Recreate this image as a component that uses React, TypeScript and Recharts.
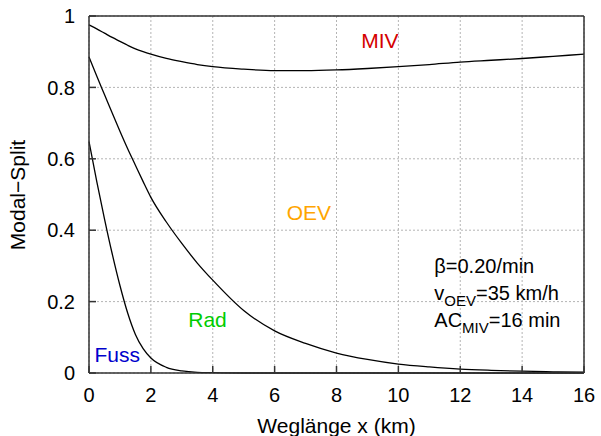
import { LineChart, Line, XAxis, YAxis, CartesianGrid, ReferenceDot } from "recharts"

// Weglänge in km
const distances = [0, 0.25, 0.5, 0.75, 1, 1.25, 1.5, 1.75, 2, 2.5, 3, 3.5, 4, 5, 6, 7, 8, 9, 10, 11, 12, 13, 14, 15, 16]

// kumulierte Anteile (Grenzlinien zwischen den Verkehrsmitteln)
const fussRad = [0.648, 0.537, 0.432, 0.334, 0.245, 0.168, 0.108, 0.068, 0.042, 0.016, 0.006, 0.002, 0.001, 0, 0, 0, 0, 0, 0, 0, 0, 0, 0, 0, 0]
const radOev = [0.885, 0.832, 0.78, 0.728, 0.677, 0.628, 0.582, 0.536, 0.492, 0.423, 0.363, 0.308, 0.26, 0.175, 0.118, 0.083, 0.056, 0.038, 0.025, 0.017, 0.011, 0.0075, 0.005, 0.0033, 0.0022]
const oevMiv = [0.975, 0.964, 0.952, 0.94, 0.929, 0.918, 0.908, 0.9, 0.893, 0.881, 0.872, 0.864, 0.858, 0.851, 0.847, 0.847, 0.849, 0.853, 0.858, 0.864, 0.871, 0.876, 0.881, 0.887, 0.893]

const xTicks = [0, 2, 4, 6, 8, 10, 12, 14, 16]
const yTicks = [0, 0.2, 0.4, 0.6, 0.8, 1]

const data = distances.map((x, i) => ({ x, fussRad: fussRad[i], radOev: radOev[i], oevMiv: oevMiv[i] }))

const font = "'Liberation Sans', Arial, Helvetica, sans-serif"
const axisColor = "#333"
const tickStyle = { fill: "#000", fontSize: 20, fontFamily: font }

function ParamBox({ viewBox }: any) {
  const x = viewBox.x + 5
  const y = viewBox.y
  const sub = { fontSize: 15 }
  return (
    <text x={x} y={y} fontFamily={font} fontSize={20} fill="#000">
      <tspan x={x} y={y + 7}>β=0.20/min</tspan>
      <tspan x={x} y={y + 34}>v</tspan>
      <tspan dy={6} style={sub}>OEV</tspan>
      <tspan dy={-6}>=35 km/h</tspan>
      <tspan x={x} y={y + 61}>AC</tspan>
      <tspan dy={6} style={sub}>MIV</tspan>
      <tspan dy={-6}>=16 min</tspan>
    </text>
  )
}

export default function App() {
  return (
    <div style={{ position: "absolute", left: 0, top: 0 }}>
      <LineChart width={601} height={436} data={data} margin={{ top: 0, right: 0, bottom: 0, left: 0 }}>
        <CartesianGrid stroke="#b4b4b4" strokeDasharray="2 2" />
        <XAxis
          dataKey="x" type="number" domain={[0, 16]} ticks={xTicks} height={63}
          stroke={axisColor} strokeWidth={1.5} tickSize={-7} tickMargin={22} tick={tickStyle}
          label={{
            content: ({ viewBox }: any) => (
              <text x={viewBox.x + viewBox.width / 2} y={viewBox.y + 60} textAnchor="middle" fontFamily={font} fontSize={21} fill="#000">
                Weglänge x (km)
              </text>
            ),
          }}
        />
        <XAxis xAxisId="top" orientation="top" dataKey="x" type="number" domain={[0, 16]} ticks={xTicks} height={16}
          stroke={axisColor} strokeWidth={1.5} tickSize={-7} tick={false} />
        <YAxis
          type="number" domain={[0, 1]} ticks={yTicks} width={89}
          stroke={axisColor} strokeWidth={1.5} tickSize={-7} tickMargin={21} tick={tickStyle}
          label={{
            content: () => (
              <text x={0} y={0} transform="translate(25,195) rotate(-90)" textAnchor="middle" fontFamily={font} fontSize={21} fill="#000">
                Modal−Split
              </text>
            ),
          }}
        />
        <YAxis yAxisId="right" orientation="right" type="number" domain={[0, 1]} ticks={yTicks} width={17}
          stroke={axisColor} strokeWidth={1.5} tickSize={-7} tick={false} />
        <Line dataKey="fussRad" type="monotone" stroke="#000" strokeWidth={1.3} dot={false} isAnimationActive={false} />
        <Line dataKey="radOev" type="monotone" stroke="#000" strokeWidth={1.3} dot={false} isAnimationActive={false} />
        <Line dataKey="oevMiv" type="monotone" stroke="#000" strokeWidth={1.3} dot={false} isAnimationActive={false} />
        <ReferenceDot x={9.4} y={0.93} r={0} stroke="none" label={{ value: "MIV", position: "center", fill: "#d40000", fontSize: 21, fontFamily: font }} />
        <ReferenceDot x={7.11} y={0.45} r={0} stroke="none" label={{ value: "OEV", position: "center", fill: "#ffa500", fontSize: 21, fontFamily: font }} />
        <ReferenceDot x={3.83} y={0.15} r={0} stroke="none" label={{ value: "Rad", position: "center", fill: "#00cc00", fontSize: 21, fontFamily: font }} />
        <ReferenceDot x={0.915} y={0.051} r={0} stroke="none" label={{ value: "Fuss", position: "center", fill: "#0000cc", fontSize: 21, fontFamily: font }} />
        <ReferenceDot x={11} y={0.3} r={0} stroke="none" label={{ content: ParamBox }} />
      </LineChart>
    </div>
  )
}
